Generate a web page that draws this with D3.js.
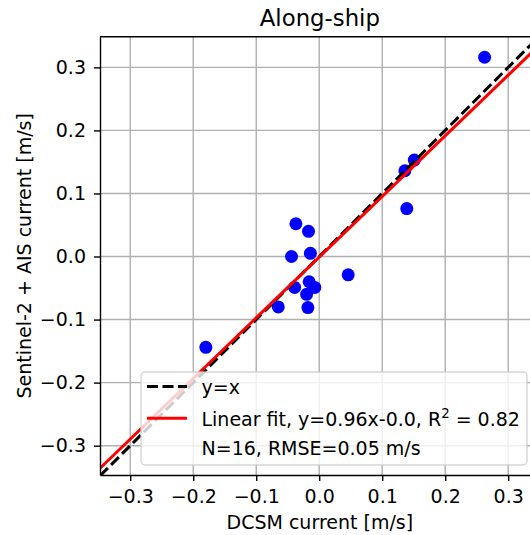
<!DOCTYPE html>
<meta charset="utf-8">
<script src="https://cdn.jsdelivr.net/npm/d3@7"></script>
<style type="text/css">
    body { margin: 0; }
    text { font-family: "DejaVu Sans", sans-serif; }
    .grid line { stroke: #b0b0b0; stroke-width: 1.4; }
    .axis path, .axis line { stroke: #000; stroke-width: 1.4; }
    .axis text { font-size: 19px; fill: #000; }
</style>
<body>
<script>
    // data
    var dcsm = [0.2625, 0.136, 0.151, 0.139, -0.037, -0.017, -0.044, -0.014,
                0.046, -0.016, -0.039, -0.007, -0.020, -0.065, -0.018, -0.180];
    var s2ais = [0.316, 0.136, 0.153, 0.076, 0.052, 0.040, 0.000, 0.005,
                -0.029, -0.040, -0.049, -0.049, -0.060, -0.080, -0.081, -0.144];
    var ticks = [-0.3, -0.2, -0.1, 0.0, 0.1, 0.2, 0.3];
    var fitSlope = 0.962, fitIntercept = -0.001;
    var legendLabels = ["y=x", "Linear fit, y=0.96x-0.0, R", "N=16, RMSE=0.05 m/s"];

    var width = 530, height = 535;
    var pLeft = 100, pRight = 539.7, pTop = 36.7, pBottom = 475;

    var x = d3.scaleLinear().domain([-0.348, 0.35]).range([pLeft, pRight]),
        y = d3.scaleLinear().domain([-0.3465, 0.3486]).range([pBottom, pTop]);

    var svg = d3.select("body")
        .append("svg")
        .attr("width", width)
        .attr("height", height);

    svg.append("defs").append("clipPath")
        .attr("id", "clip")
        .append("rect")
        .attr("x", pLeft).attr("y", pTop)
        .attr("width", pRight - pLeft).attr("height", pBottom - pTop);

    // grid
    var grid = svg.append("g").attr("class", "grid");
    grid.selectAll(".gx")
        .data(ticks)
        .enter()
        .append("line")
        .attr("x1", function(d){ return x(d); })
        .attr("x2", function(d){ return x(d); })
        .attr("y1", pTop).attr("y2", pBottom);
    grid.selectAll(".gy")
        .data(ticks)
        .enter()
        .append("line")
        .attr("y1", function(d){ return y(d); })
        .attr("y2", function(d){ return y(d); })
        .attr("x1", pLeft).attr("x2", pRight);

    var plot = svg.append("g").attr("clip-path", "url(#clip)");

    // scatter
    plot.selectAll("circle")
        .data(dcsm)
        .enter()
        .append("circle")
        .attr("cx", function(d){ return x(d); })
        .attr("cy", function(d, i){ return y(s2ais[i]); })
        .attr("r", 6.5)
        .style("fill", "#0000ff");

    var line = d3.line()
        .x(function(d){ return x(d[0]); })
        .y(function(d){ return y(d[1]); });

    var xs = [-0.4, 0.4];

    // y=x
    plot.append("path")
        .datum(xs.map(function(v){ return [v, v]; }))
        .attr("d", line)
        .style("fill", "none")
        .style("stroke", "#000")
        .style("stroke-width", 3)
        .style("stroke-dasharray", "11,4.5");

    // linear fit
    plot.append("path")
        .datum(xs.map(function(v){ return [v, fitSlope * v + fitIntercept]; }))
        .attr("d", line)
        .style("fill", "none")
        .style("stroke", "#ff0000")
        .style("stroke-width", 3);

    // axes
    var fmt = d3.format(".1f");
    svg.append("g")
        .attr("class", "axis")
        .attr("transform", "translate(0," + pBottom + ")")
        .call(d3.axisBottom(x).tickValues(ticks).tickFormat(fmt)
            .tickSize(6).tickSizeOuter(0).tickPadding(8.5));

    svg.append("g")
        .attr("class", "axis")
        .attr("transform", "translate(" + pLeft + ",0)")
        .call(d3.axisLeft(y).tickValues(ticks).tickFormat(fmt)
            .tickSize(6).tickSizeOuter(0).tickPadding(8));

    // top and right spines
    svg.append("line")
        .attr("x1", pLeft).attr("x2", pRight)
        .attr("y1", pTop).attr("y2", pTop)
        .style("stroke", "#000").style("stroke-width", 1.4);
    svg.append("line")
        .attr("x1", pRight).attr("x2", pRight)
        .attr("y1", pTop).attr("y2", pBottom)
        .style("stroke", "#000").style("stroke-width", 1.4);

    // title and labels
    svg.append("text")
        .attr("x", (pLeft + pRight) / 2)
        .attr("y", 26)
        .attr("text-anchor", "middle")
        .style("font-size", "22.8px")
        .text("Along-ship");

    svg.append("text")
        .attr("x", (pLeft + pRight) / 2)
        .attr("y", 529)
        .attr("text-anchor", "middle")
        .style("font-size", "19px")
        .text("DCSM current [m/s]");

    svg.append("text")
        .attr("transform", "translate(31," + ((pTop + pBottom) / 2) + ") rotate(-90)")
        .attr("text-anchor", "middle")
        .style("font-size", "19px")
        .text("Sentinel-2 + AIS current [m/s]");

    // legend
    var lg = svg.append("g");
    lg.append("rect")
        .attr("x", 141).attr("y", 372)
        .attr("width", 386).attr("height", 93)
        .attr("rx", 4)
        .style("fill", "#fff")
        .style("fill-opacity", 0.8)
        .style("stroke", "#cccccc")
        .style("stroke-opacity", 0.8)
        .style("stroke-width", 1.4);

    lg.append("line")
        .attr("x1", 147).attr("x2", 187)
        .attr("y1", 386.5).attr("y2", 386.5)
        .style("stroke", "#000").style("stroke-width", 3)
        .style("stroke-dasharray", "11,4.5");
    lg.append("line")
        .attr("x1", 147).attr("x2", 187)
        .attr("y1", 418.3).attr("y2", 418.3)
        .style("stroke", "#ff0000").style("stroke-width", 3);

    var baselines = [394, 425.5, 455];
    lg.selectAll(".ltext")
        .data(legendLabels)
        .enter()
        .append("text")
        .attr("x", 201.5)
        .attr("y", function(d, i){ return baselines[i]; })
        .style("font-size", "19px")
        .each(function(d, i){
            var t = d3.select(this);
            t.append("tspan").text(d);
            if (i === 1) {
                t.append("tspan").attr("dy", -7.5).style("font-size", "13.3px").text("2");
                t.append("tspan").attr("dy", 7.5).text(" = 0.82");
            }
        });
</script>
</body>
